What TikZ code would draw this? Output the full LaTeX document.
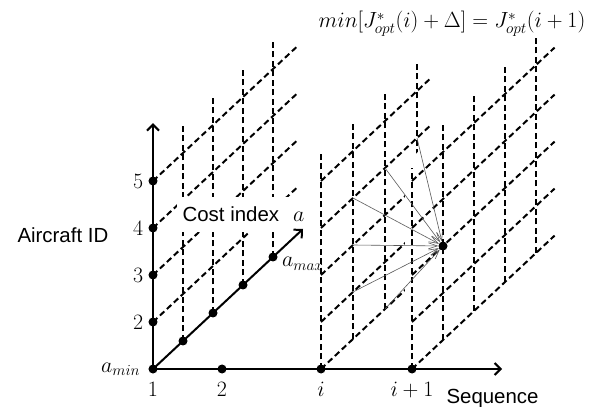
\RequirePackage{fix-cm}
\documentclass[tikz,border=0pt]{standalone}
\usepackage{fontspec}
\setmainfont{Liberation Sans}
\usetikzlibrary{arrows.meta,positioning}

\tikzset{
  gridline/.style={line width=2bp, dash pattern=on 6bp off 3.5bp},
  mainaxis/.style={line width=2bp, -{Straight Barb[length=6bp,width=12bp]}},
  gdot/.style={circle, fill, inner sep=0pt, minimum size=9bp},
  numlbl/.style={inner sep=0pt, font=\fontsize{22}{26}\selectfont},
  optstep/.style={black!65, line width=0.6bp, -{Straight Barb[length=9bp,width=6bp]}},
}

\begin{document}
\begin{tikzpicture}[x=1bp, y=47bp, font=\fontsize{20.5}{24}\selectfont]
\useasboundingbox (-153bp,-38bp) rectangle (459bp,369bp);

% grid at sequence 1
\begin{scope}[z={(30bp,28bp)}]
\foreach \k in {1,...,4}{
  \coordinate (one-id\k) at (0,\k,0);
  \coordinate (one-end\k) at (0,\k,4.8);
  \draw[gridline] (one-id\k) -- (one-end\k);
}
\foreach \c in {1,...,4}{
  \coordinate (c\c) at (0,0,\c);
  \coordinate (one-top\c) at (0,4.6,\c);
  \draw[gridline] (c\c) -- (one-top\c);
}
\end{scope}

% grid at sequence i
\begin{scope}[z={(32bp,30bp)}]
\foreach \k in {0,...,4}{
  \coordinate (i-id\k) at (168,\k,0);
  \coordinate (i-end\k) at (168,\k,3.4);
  \draw[gridline] (i-id\k) -- (i-end\k);
}
\foreach \c in {0,...,3}{
  \coordinate (i-bot\c) at (168,0,\c);
  \coordinate (i-top\c) at (168,4.6,\c);
  \draw[gridline] (i-bot\c) -- (i-top\c);
}
\foreach \c/\k in {3/3,2/3,1/3,1/2,1/1,2/0}
  \coordinate (i-\c-\k) at (168,\k,\c);
\end{scope}

% grid at sequence i+1, hides the one behind
\begin{scope}[z={(31bp,29bp)}]
\fill[white] (252,-0.2,0) -- (252,4.36,0) -- (252,4.36,5) -- (252,-0.2,5) -- cycle;
\foreach \k in {0,...,4}{
  \coordinate (n-id\k) at (259,\k,0);
  \coordinate (n-end\k) at (259,\k,4.6);
  \draw[gridline] (n-id\k) -- (n-end\k);
}
\coordinate (n-top0) at (259,4.28,0);
\draw[gridline] (n-id0) -- (n-top0);
\foreach \c in {1,...,4}{
  \coordinate (n-bot\c) at (259,0,\c);
  \coordinate (n-top\c) at (259,4.6,\c);
  \draw[gridline] (n-bot\c) -- (n-top\c);
}
\node[gdot] (best) at (259,2,1) {};
\end{scope}

% label over the first grid
\node[fill=white, minimum width=133bp, minimum height=35bp, inner sep=0pt] (costlbl)
  at (90.5bp,154.5bp) {Cost index\hspace{14bp}\fontsize{22}{26}\selectfont$a$};

% axes
\begin{scope}[z={(30bp,28bp)}]
\coordinate (o) at (0,0,0);
\coordinate (idtip) at (0,5.23,0);
\coordinate (seqtip) at (349,0,0);
\coordinate (costtip) at (0,0,5);
\draw[mainaxis] (o) -- (idtip);
\draw[mainaxis] (o) -- (seqtip);
\draw[mainaxis] (o) -- (costtip);
\end{scope}

% dots and numbers
\node[gdot] (id1) at (o) {};
\node[numlbl, left=8bp of id1] (amin) {$a_{min}$};
\foreach \k/\t in {1/2,2/3,3/4,4/5}{
  \node[gdot] (id\t) at (0,\k) {};
  \node[numlbl, left=5bp of id\t] (id\t-lbl) {$\t$};
}
\foreach \c in {1,...,4}
  \node[gdot] (cost\c) at (c\c) {};
\node[numlbl, anchor=base west] (amax) at ([xshift=9bp,yshift=-10bp]cost4.center) {$a_{max}$};

\node[gdot] (seq2) at (69,0) {};
\node[gdot] (seqi) at (168,0) {};
\node[gdot] (seqn) at (259,0) {};
\node[numlbl, below=8bp of id1] (seq1-lbl) {$1$};
\node[numlbl, below=8bp of seq2] (seq2-lbl) {$2$};
\node[numlbl, below=8bp of seqi] (seqi-lbl) {$i$};
\node[numlbl, below=8bp of seqn] (seqn-lbl) {$i+1$};

% candidate steps into the optimum
\foreach \p in {3-3,2-3,1-3,1-2,1-1,2-0}
  \draw[optstep] (i-\p) -- (best);

\node[anchor=base west] (acid) at (-139bp,126bp) {Aircraft ID};
\node[anchor=base west] (seqlbl) at (290bp,-34bp) {Sequence};
\node[numlbl, anchor=base] (bellman) at (299bp,341bp)
  {$min\big[J^{*}_{opt}(i)+\Delta\big]=J^{*}_{opt}(i+1)$};
\end{tikzpicture}
\end{document}
